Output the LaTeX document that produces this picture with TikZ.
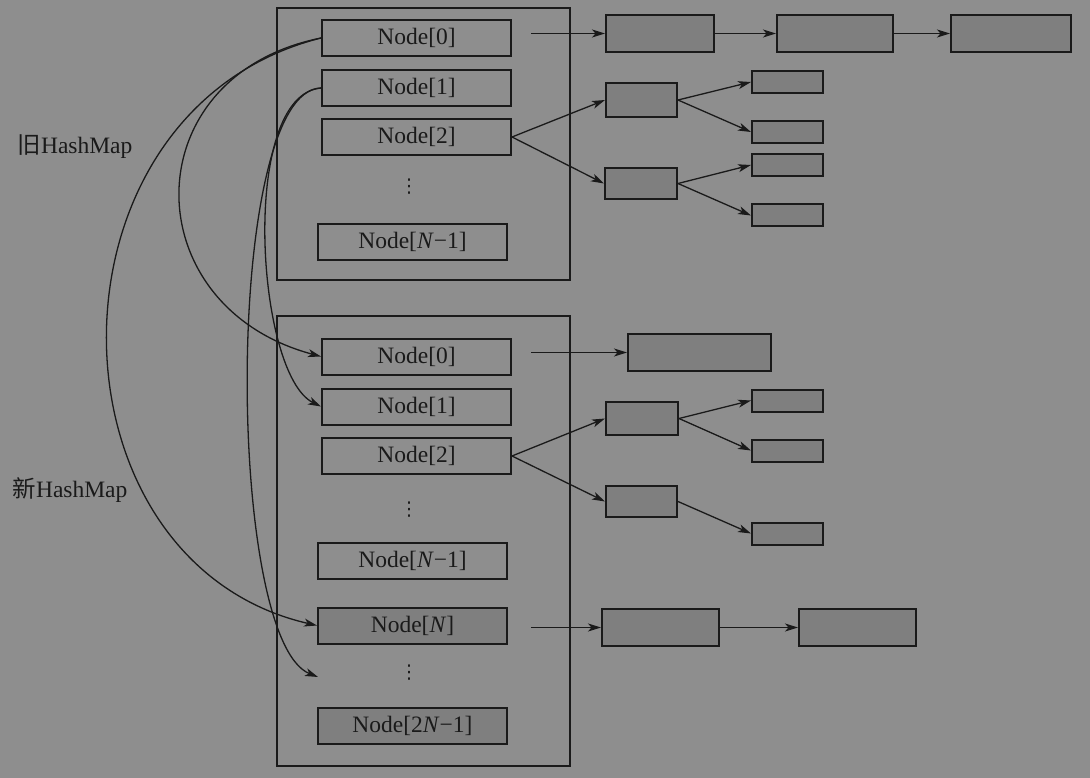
\documentclass[tikz,border=0pt]{standalone}
\usepackage{fontspec}
\setmainfont{Liberation Serif}
\newfontfamily\cjk{Noto Sans CJK SC}
\newfontfamily\symfont{DejaVu Sans}
\usetikzlibrary{arrows.meta,calc}
\definecolor{bggray}{RGB}{142,142,142}
\definecolor{boxgray}{RGB}{127,127,127}
\definecolor{ink}{RGB}{26,26,26}
\begin{document}
\begin{tikzpicture}[x=1pt,y=-1pt,
  every node/.style={font=\fontsize{23.5}{27}\selectfont, text=ink},
  table/.style={draw=ink, line width=2.4pt},
  cell/.style={draw=ink, line width=2pt, inner sep=0pt, minimum width=189pt, minimum height=36pt},
  newcell/.style={cell, fill=boxgray},
  entry/.style={draw=ink, line width=2pt, fill=boxgray, inner sep=0pt},
  dots/.style={inner sep=0pt, font=\symfont\fontsize{19}{22}\selectfont},
  conn/.style={draw=ink, line width=1.3pt, -{Stealth[length=13pt,width=8pt,inset=3.5pt]}}]

% canvas
\fill[bggray] (0,0) rectangle (1090,778);

% labels
\node (lold) at (75,147) {{\cjk 旧}HashMap};
\node (lnew) at (70,490) {{\cjk 新}HashMap};

% old table
\draw[table] (277,8) rectangle (570,280);
\node[cell] (o0) at (416.5,38) {Node[0]};
\node[cell] (o1) at (416.5,88) {Node[1]};
\node[cell] (o2) at (416.5,137) {Node[2]};
\node[dots] (od) at (409,187) {⋮};
\node[cell] (oN) at (412.5,242) {Node[\textit{N}−1]};

% new table
\draw[table] (277,316) rectangle (570,766);
\node[cell] (m0) at (416.5,356.5) {Node[0]};
\node[cell] (m1) at (416.5,406.5) {Node[1]};
\node[cell] (m2) at (416.5,456) {Node[2]};
\node[dots] (md1) at (409,510) {⋮};
\node[cell] (mN1) at (412.5,560.5) {Node[\textit{N}−1]};
\node[newcell] (mN) at (412.5,625.5) {Node[\textit{N}]};
\node[dots] (md2) at (409,673) {⋮};
\node[newcell] (m2N) at (412.5,725.5) {Node[2\textit{N}−1]};

% old chains
\node[entry, minimum width=108pt, minimum height=37pt] (a1) at (660,33.5) {};
\node[entry, minimum width=116pt, minimum height=37pt] (a2) at (835,33.5) {};
\node[entry, minimum width=120pt, minimum height=37pt] (a3) at (1011,33.5) {};
\coordinate (s0) at (531,33.5);
\draw[conn] (s0) -- (a1.west);
\draw[conn] (a1.east) -- (a2.west);
\draw[conn] (a2.east) -- (a3.west);

\node[entry, minimum width=71pt, minimum height=34pt] (b1) at (641.5,100) {};
\node[entry, minimum width=72pt, minimum height=31pt] (b2) at (641,183.5) {};
\node[entry, minimum width=71pt, minimum height=22pt] (c1) at (787.5,82) {};
\node[entry, minimum width=71pt, minimum height=22pt] (c2) at (787.5,132) {};
\node[entry, minimum width=71pt, minimum height=22pt] (c3) at (787.5,165) {};
\node[entry, minimum width=71pt, minimum height=22pt] (c4) at (787.5,215.5) {};
\draw[conn] (o2.east) -- (b1.west);
\draw[conn] (o2.east) -- (b2.west);
\draw[conn] (b1.east) -- (c1.west);
\draw[conn] (b1.east) -- (c2.west);
\draw[conn] (b2.east) -- (c3.west);
\draw[conn] (b2.east) -- (c4.west);

% new chains
\node[entry, minimum width=143pt, minimum height=37pt] (d1) at (699.5,352.5) {};
\coordinate (t0) at (531,352.5);
\draw[conn] (t0) -- (d1.west);

\node[entry, minimum width=72pt, minimum height=33pt] (e1) at (642,418.5) {};
\node[entry, minimum width=71pt, minimum height=31pt] (e2) at (641.5,501.5) {};
\node[entry, minimum width=71pt, minimum height=22pt] (f1) at (787.5,400.5) {};
\node[entry, minimum width=71pt, minimum height=22pt] (f2) at (787.5,450.5) {};
\node[entry, minimum width=71pt, minimum height=22pt] (f3) at (787.5,533.5) {};
\draw[conn] (m2.east) -- (e1.west);
\draw[conn] (m2.east) -- (e2.west);
\draw[conn] (e1.east) -- (f1.west);
\draw[conn] (e1.east) -- (f2.west);
\draw[conn] (e2.east) -- (f3.west);

\node[entry, minimum width=117pt, minimum height=37pt] (g1) at (660.5,627.5) {};
\node[entry, minimum width=117pt, minimum height=37pt] (g2) at (857.5,627.5) {};
\coordinate (tN) at (531,627.5);
\draw[conn] (tN) -- (g1.west);
\draw[conn] (g1.east) -- (g2.west);

% rehash moves from the old table into the new one
\coordinate (rest) at (318,677);
\draw[conn] (o0.west) .. controls +(-189,38) and +(-187,-50) .. (m0.west);
\draw[conn] (o0.west) .. controls +(-286,72) and +(-278,-64) .. (mN.west);
\draw[conn] (o1.west) .. controls +(-82,7) and +(-65,-32) .. (m1.west);
\draw[conn] (o1.west) .. controls +(-97,2) and +(-93,-37) .. (rest);
\end{tikzpicture}
\end{document}
